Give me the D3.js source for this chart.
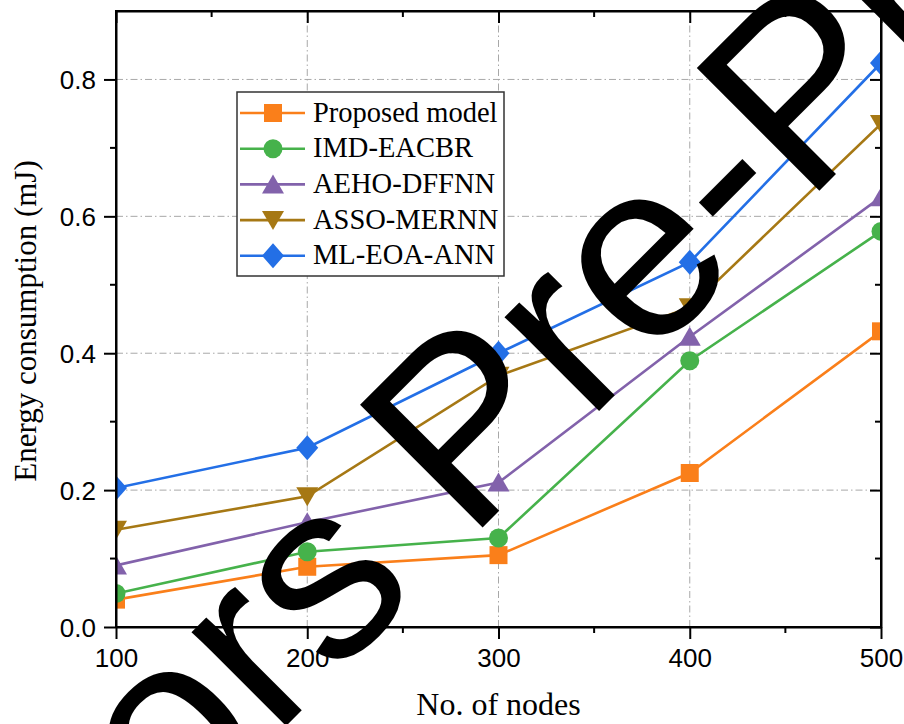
<!DOCTYPE html>
<html>
<head>
<meta charset="utf-8">
<script src="https://cdn.jsdelivr.net/npm/d3@7/dist/d3.min.js"></script>
<style>
  html, body { margin: 0; padding: 0; background: #fff; }
  svg { display: block; }
</style>
</head>
<body>
<svg id="chart" width="904" height="724"></svg>
<script>
// Energy consumption versus number of nodes
const nodes = [100, 200, 300, 400, 500];
const proposedModel = [0.040, 0.088, 0.105, 0.225, 0.432];
const imdEacbr     = [0.049, 0.110, 0.130, 0.389, 0.578];
const aehoDffnn    = [0.090, 0.153, 0.211, 0.424, 0.628];
const assoMernn    = [0.142, 0.191, 0.367, 0.467, 0.735];
const mlEoaAnn     = [0.203, 0.262, 0.400, 0.533, 0.824];

const seriesNames = ["Proposed model", "IMD-EACBR", "AEHO-DFFNN", "ASSO-MERNN", "ML-EOA-ANN"];
const xTickValues = [100, 200, 300, 400, 500];
const yTickValues = [0.0, 0.2, 0.4, 0.6, 0.8];

const series = [
  { name: seriesNames[0], values: proposedModel, color: "#fa7f1a", shape: "square" },
  { name: seriesNames[1], values: imdEacbr,      color: "#46b24b", shape: "circle" },
  { name: seriesNames[2], values: aehoDffnn,     color: "#8262ab", shape: "triUp" },
  { name: seriesNames[3], values: assoMernn,     color: "#a67814", shape: "triDown" },
  { name: seriesNames[4], values: mlEoaAnn,      color: "#236fe6", shape: "diamond" }
];

const svg = d3.select("#chart");
const plot = { left: 116, right: 881, top: 11, bottom: 627 };

const x = d3.scaleLinear().domain([100, 500]).range([plot.left, plot.right]);
const y = d3.scaleLinear().domain([0, 0.9]).range([plot.bottom, plot.top]);

// marker outlines, centred on the data point
function markerPath(shape) {
  switch (shape) {
    case "square":  return "M-9,-9H9V9H-9Z";
    case "circle":  return d3.symbol(d3.symbolCircle, Math.PI * 9.5 * 9.5)();
    case "triUp":   return "M0,-10L11,9H-11Z";
    case "triDown": return "M0,10L11,-9H-11Z";
    case "diamond": return "M0,-12.5L11,0L0,12.5L-11,0Z";
  }
}

// clip for the data area
svg.append("defs").append("clipPath").attr("id", "plot-clip")
  .append("rect")
  .attr("x", plot.left).attr("y", plot.top)
  .attr("width", plot.right - plot.left).attr("height", plot.bottom - plot.top);

// dash-dot grid
const grid = svg.append("g").attr("stroke", "#a8a8a8").attr("stroke-width", 1)
  .attr("stroke-dasharray", "7,3,1.5,3").attr("fill", "none");
grid.selectAll("line.gx").data(xTickValues.filter(v => v > 100 && v < 500)).join("line")
  .attr("x1", d => x(d)).attr("x2", d => x(d))
  .attr("y1", plot.top).attr("y2", plot.bottom);
grid.selectAll("line.gy").data(yTickValues.filter(v => v > 0)).join("line")
  .attr("class", "gy")
  .attr("x1", plot.left).attr("x2", plot.right)
  .attr("y1", d => y(d)).attr("y2", d => y(d));

// series
const dataLayer = svg.append("g").attr("clip-path", "url(#plot-clip)");
const line = d3.line().x((d, i) => x(nodes[i])).y(d => y(d));
series.forEach(s => {
  dataLayer.append("path")
    .attr("d", line(s.values))
    .attr("fill", "none")
    .attr("stroke", s.color)
    .attr("stroke-width", 2.6);
});
series.forEach(s => {
  dataLayer.selectAll(null).data(s.values).join("path")
    .attr("d", markerPath(s.shape))
    .attr("transform", (d, i) => `translate(${x(nodes[i])},${y(d)})`)
    .attr("fill", s.color);
});

// axes
const tickFont = "'Liberation Sans', Arial, sans-serif";
const axisStroke = 2;

const xBottom = d3.axisBottom(x).tickValues(xTickValues).tickFormat(d3.format("d"))
  .tickSizeOuter(0).tickSizeInner(12).tickPadding(10);
const gxb = svg.append("g").attr("transform", `translate(0,${plot.bottom})`).call(xBottom);
gxb.selectAll("text").attr("font-family", tickFont).attr("font-size", 26).attr("fill", "#000");

const yLeft = d3.axisLeft(y).tickValues(yTickValues).tickFormat(d3.format(".1f"))
  .tickSizeOuter(0).tickSizeInner(12).tickPadding(8);
const gyl = svg.append("g").attr("transform", `translate(${plot.left},0)`).call(yLeft);
gyl.selectAll("text").attr("font-family", tickFont).attr("font-size", 26).attr("fill", "#000")
  .attr("dy", "0.35em");

const xTop = d3.axisTop(x).tickValues(xTickValues).tickFormat("").tickSizeOuter(0).tickSizeInner(-12);
svg.append("g").attr("transform", `translate(0,${plot.top})`).call(xTop);
const yRight = d3.axisRight(y).tickValues(yTickValues).tickFormat("").tickSizeOuter(0).tickSizeInner(-11);
svg.append("g").attr("transform", `translate(${plot.right},0)`).call(yRight);

// minor ticks
const minorX = [150, 250, 350, 450];
const minorY = [0.1, 0.3, 0.5, 0.7];
const minor = svg.append("g").attr("stroke", "#000").attr("stroke-width", axisStroke);
minorX.forEach(v => {
  minor.append("line").attr("x1", x(v)).attr("x2", x(v)).attr("y1", plot.bottom).attr("y2", plot.bottom + 6);
  minor.append("line").attr("x1", x(v)).attr("x2", x(v)).attr("y1", plot.top).attr("y2", plot.top + 6);
});
minorY.forEach(v => {
  minor.append("line").attr("x1", plot.left - 6).attr("x2", plot.left).attr("y1", y(v)).attr("y2", y(v));
  minor.append("line").attr("x1", plot.right - 6).attr("x2", plot.right).attr("y1", y(v)).attr("y2", y(v));
});

svg.selectAll(".domain, .tick line").attr("stroke", "#000").attr("stroke-width", axisStroke);

// axis frame
svg.append("rect")
  .attr("x", plot.left).attr("y", plot.top)
  .attr("width", plot.right - plot.left).attr("height", plot.bottom - plot.top)
  .attr("fill", "none").attr("stroke", "#000").attr("stroke-width", axisStroke);

// axis titles
const serif = "'Liberation Serif', 'Times New Roman', serif";
svg.append("text")
  .attr("x", (plot.left + plot.right) / 2).attr("y", 715)
  .attr("text-anchor", "middle").attr("font-family", serif).attr("font-size", 32)
  .attr("fill", "#000").text("No. of nodes");
svg.append("text")
  .attr("transform", "translate(36,321) rotate(-90)")
  .attr("text-anchor", "middle").attr("font-family", serif).attr("font-size", 31)
  .attr("fill", "#000").text("Energy consumption (mJ)");

// legend
const legend = svg.append("g");
legend.append("rect")
  .attr("x", 237).attr("y", 92).attr("width", 267).attr("height", 184)
  .attr("fill", "#fff").attr("stroke", "#333").attr("stroke-width", 1.5);
series.forEach((s, i) => {
  const cy = 113 + i * 35.7;
  legend.append("line").attr("x1", 240).attr("x2", 305).attr("y1", cy).attr("y2", cy)
    .attr("stroke", s.color).attr("stroke-width", 2.6);
  legend.append("path").attr("d", markerPath(s.shape))
    .attr("transform", `translate(273,${cy})`).attr("fill", s.color);
  legend.append("text").attr("x", 313).attr("y", cy + 8.5)
    .attr("font-family", serif).attr("font-size", 28.5).attr("fill", "#000")
    .text(s.name);
});

// diagonal stamp across the figure, two words on one 45° baseline
const stampFont = "'Liberation Sans', Arial, sans-serif";
const stampSize = 252;
// first word: its final "s" starts at (333, 679)
const word1 = svg.append("text")
  .attr("font-family", stampFont).attr("font-size", stampSize).attr("fill", "#000")
  .text("Authors");
const lead1 = word1.node().getSubStringLength(0, 6);
word1.attr("transform", `translate(333,679) rotate(-45) translate(${-lead1},0)`);
// second word starts at (468, 542)
svg.append("text")
  .attr("font-family", stampFont).attr("font-size", stampSize).attr("fill", "#000")
  .attr("transform", "translate(468,542) rotate(-45)")
  .text("Pre-Print");
</script>
</body>
</html>
